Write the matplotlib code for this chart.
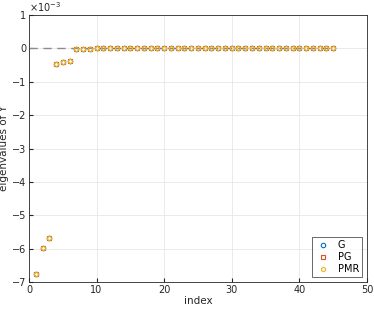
import matplotlib.pyplot as plt
import numpy as np

# eigenvalues (x 1e-3), identical for the three methods
index = np.arange(1, 46)
eig_g = np.array([-6.75, -5.97, -5.67, -0.47, -0.42, -0.38, -0.03, -0.025, -0.02]
                 + [0.0] * 36)
eig_pg = eig_g.copy()
eig_pmr = eig_g.copy()

fig = plt.figure(figsize=(3.74, 3.13), dpi=100)
ax = fig.add_axes([0.0775, 0.099, 0.9035, 0.853])

ax.plot([0, 45], [0, 0], ls=(0, (6, 4)), color="0.55", lw=1.0, zorder=1)
ax.plot(index, eig_g, "o", mfc="none", mec="#0072BD", ms=3.2, mew=0.8, label="G", zorder=3)
ax.plot(index, eig_pg, "s", mfc="none", mec="#D95319", ms=2.8, mew=0.8, label="PG", zorder=3)
ax.plot(index, eig_pmr, "h", mfc="none", mec="#EDB120", ms=3.2, mew=0.8, label="PMR", zorder=4)

ax.set_xlim(0, 50)
ax.set_ylim(-7, 1)
ax.set_xticks(np.arange(0, 51, 10))
ax.set_yticks(np.arange(-7, 2, 1))
ax.grid(True, color="0.9", lw=0.6)
ax.set_axisbelow(True)
ax.tick_params(direction="in", labelsize=7, colors="0.15", length=3, pad=2)
for sp in ax.spines.values():
    sp.set_color("0.15")
    sp.set_linewidth(0.6)

ax.set_xlabel("index", fontsize=7.5, color="0.15", labelpad=1)
ax.set_ylabel("eigenvalues of Y", fontsize=7.5, color="0.15")
ax.yaxis.set_label_coords(-0.06, 0.5)
ax.text(0.0, 1.005, r"$\times10^{-3}$", transform=ax.transAxes, fontsize=7,
        color="0.15", va="bottom", ha="left")

leg = ax.legend(loc="lower right", fontsize=7, handlelength=1.5, frameon=True,
                fancybox=False, borderpad=0.3, labelspacing=0.2, borderaxespad=0.5)
leg.get_frame().set_edgecolor("0.15")
leg.get_frame().set_linewidth(0.6)

fig.savefig("out.png", dpi=100)
